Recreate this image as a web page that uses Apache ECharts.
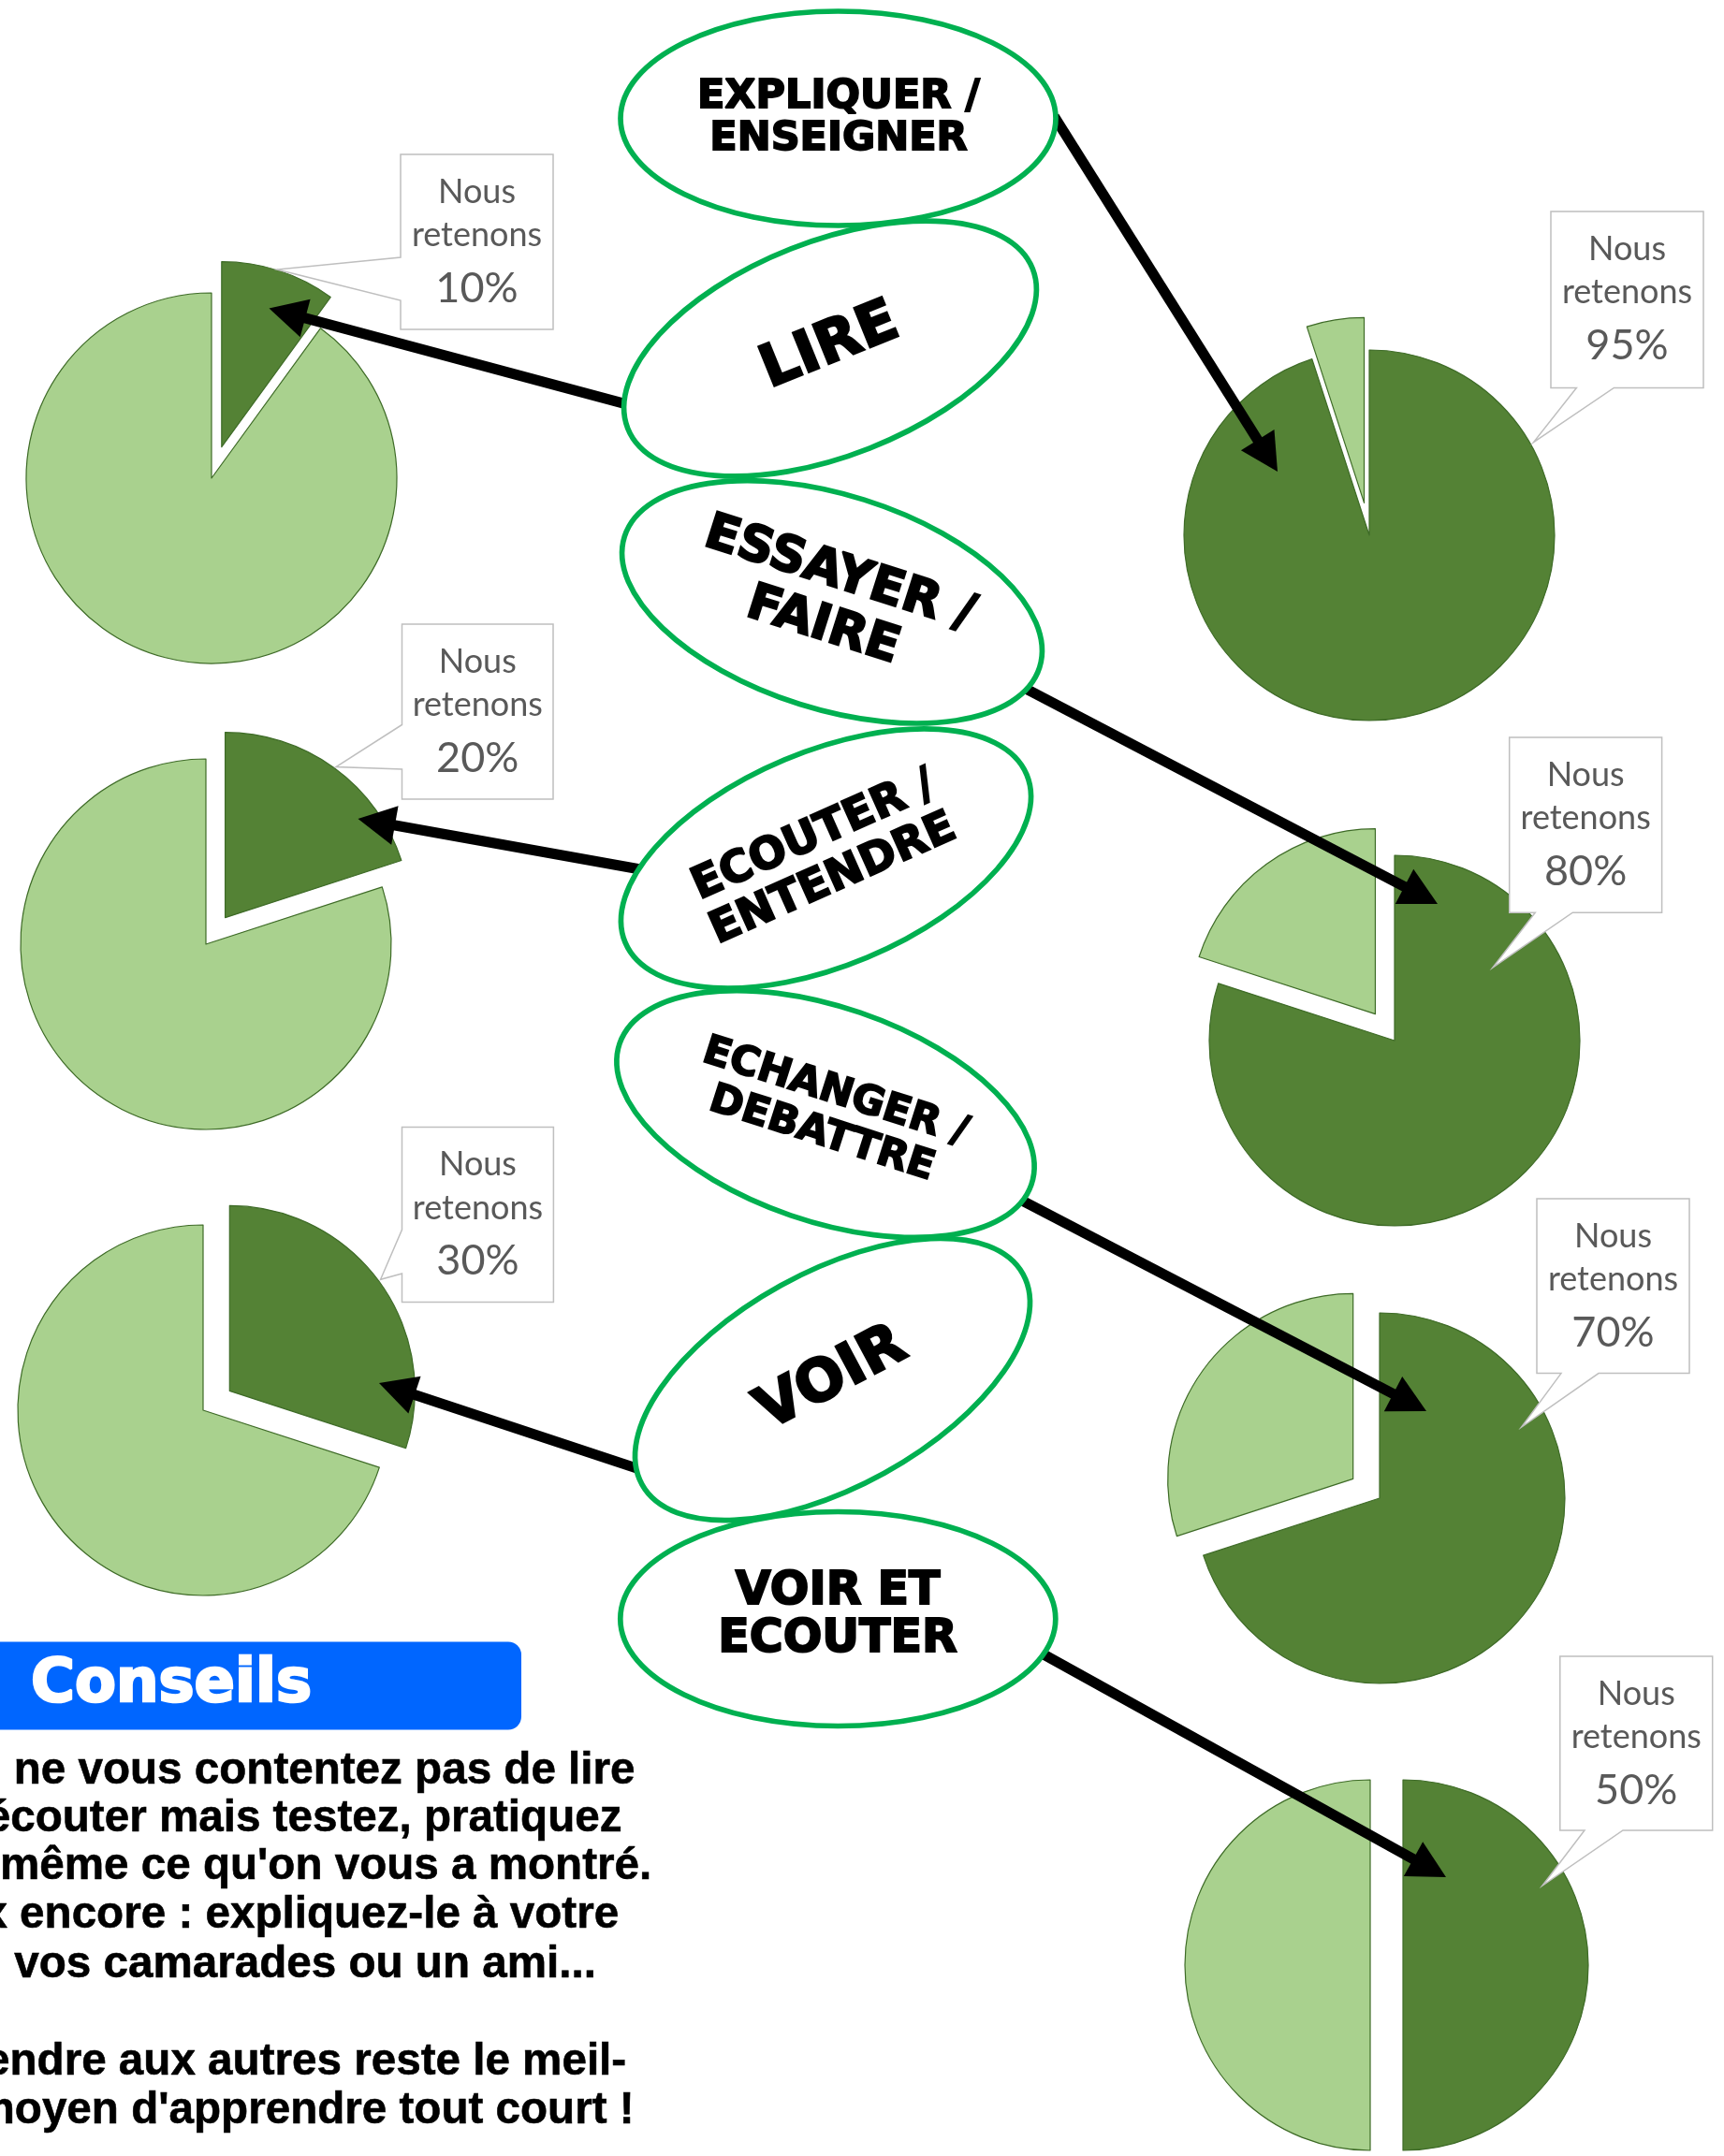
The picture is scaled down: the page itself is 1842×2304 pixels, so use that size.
<!DOCTYPE html>
<html>
<head>
<meta charset="utf-8">
<script src="https://cdn.jsdelivr.net/npm/echarts@6/dist/echarts.min.js"></script>
<style>
html,body{margin:0;padding:0;background:#fff;}
#c{width:1842px;height:2304px;}
</style>
</head>
<body>
<div id="c"></div>
<script>
// ---- data ----
const activities = ['EXPLIQUER /\nENSEIGNER', 'LIRE', 'ESSAYER /\nFAIRE', 'ECOUTER /\nENTENDRE', 'ECHANGER /\nDEBATTRE', 'VOIR', 'VOIR ET\nECOUTER'];
const retained = [95, 10, 80, 20, 70, 30, 50];
const calloutWords = ['Nous', 'retenons'];
const adviceTitle = 'Conseils';
const adviceLines = [
  'ne vous contentez pas de lire',
  "ou d'écouter mais testez, pratiquez",
  "vous-même ce qu'on vous a montré.",
  'Mieux encore : expliquez-le à votre',
  'voisin vos camarades ou un ami...',
  '',
  'Apprendre aux autres reste le meil-',
  "leur moyen d'apprendre tout court !"
];

// ---- layout (positions / styles) ----
const DARK = '#548235', LIGHT = '#a9d18e', EDGE = '#3e6b27';
const pieLayout = [
  {c: [1463, 572], explode: 'rest'},
  {c: [226, 511], explode: 'kept'},
  {c: [1490, 1112], explode: 'rest'},
  {c: [220, 1009], explode: 'kept'},
  {c: [1474, 1601], explode: 'rest'},
  {c: [217, 1507], explode: 'kept'},
  {c: [1499, 2100], explode: 'rest'}
];
const ellLayout = [
  {c: [895.5, 126.5], rot: 0, fs: 43, lh: 45, t: [896, 126], tr: 0, sw: 1.8},
  {c: [887, 372.5], rot: 21.5, fs: 62, lh: 62, t: [887, 371], tr: 22, sw: 2.6},
  {c: [889, 643.3], rot: -17.5, fs: 53, lh: 58, t: [888, 642], tr: -17.7, sw: 2.2},
  {c: [882.5, 917.5], rot: 22.7, fs: 47, lh: 51, t: [880, 917], tr: 24, sw: 2.0},
  {c: [882, 1190.5], rot: -18.9, fs: 43, lh: 47, t: [885, 1190], tr: -17.7, sw: 1.8},
  {c: [889.5, 1474], rot: 28.9, fs: 62, lh: 62, t: [889, 1474], tr: 28, sw: 2.6},
  {c: [895.3, 1730], rot: 0, fs: 49, lh: 51, t: [895, 1727], tr: 0, sw: 2.0}
];
const arrowLayout = [
  [[1131.7, 133], [1365, 504]],
  [[666, 431], [287.5, 329.6]],
  [[1098, 737], [1536, 966]],
  [[684, 929], [382.5, 874.9]],
  [[1093, 1283.4], [1524, 1508]],
  [[677, 1568], [405, 1478]],
  [[1115, 1768], [1545, 2006]]
];
const calloutLayout = [
  {box: [1657, 226, 1820, 414.4], edge: 'bottom', a: 1684.4, b: 1724.4, tip: [1638.5, 472.6]},
  {box: [428, 165, 591, 352], edge: 'left', a: 275, b: 321, tip: [296, 288]},
  {box: [1612.7, 788, 1775.6, 975.2], edge: 'bottom', a: 1640.3, b: 1680.3, tip: [1595, 1033.9]},
  {box: [429.5, 667, 591, 854], edge: 'left', a: 774.5, b: 822, tip: [359, 819.6]},
  {box: [1642, 1281, 1805, 1467.6], edge: 'bottom', a: 1668, b: 1708, tip: [1625.6, 1525]},
  {box: [429.5, 1204.5, 591.4, 1391.6], edge: 'left', a: 1314, b: 1361, tip: [406.6, 1367.3]},
  {box: [1666.8, 1770, 1829.7, 1956], edge: 'bottom', a: 1693, b: 1734, tip: [1648, 2015]}
];
const adviceX = [14.7, -127, -127, -127, -135.5, -127, -127, -127];
const adviceBase = [1909, 1960, 2011.6, 2063.7, 2115.9, 2168, 2220, 2272];

const deg = Math.PI / 180;
const HEAVY = 'DejaVu Sans';
const series = retained.map((v, i) => ({
  type: 'pie',
  center: pieLayout[i].c,
  radius: 198,
  startAngle: 90,
  clockwise: true,
  selectedMode: 'multiple',
  selectedOffset: 35,
  label: {show: false},
  labelLine: {show: false},
  emphasis: {disabled: true},
  select: {itemStyle: {borderColor: EDGE, borderWidth: 1.2}},
  itemStyle: {borderColor: EDGE, borderWidth: 1.2},
  z: 2,
  data: [
    {name: 'Nous retenons', value: v, selected: pieLayout[i].explode === 'kept', itemStyle: {color: DARK}},
    {name: 'Non retenu', value: 100 - v, selected: pieLayout[i].explode === 'rest', itemStyle: {color: LIGHT}}
  ]
}));

const g = [];
// callouts
calloutLayout.forEach((cl, i) => {
  const [x1, y1, x2, y2] = cl.box;
  let pts;
  if (cl.edge === 'left') {
    pts = [[x1, y1], [x2, y1], [x2, y2], [x1, y2], [x1, cl.b], cl.tip, [x1, cl.a]];
  } else {
    pts = [[x1, y1], [x2, y1], [x2, y2], [cl.b, y2], cl.tip, [cl.a, y2], [x1, y2]];
  }
  g.push({type: 'polygon', z: 5, shape: {points: pts}, style: {fill: '#fff', stroke: '#bfbfbf', lineWidth: 1.5}});
  const cx = (x1 + x2) / 2;
  const lines = [calloutWords[0], calloutWords[1], retained[i] + '%'];
  const base = [y1 + 54, y1 + 100.5, y1 + 160.5];
  const fss = [36, 36, 45];
  lines.forEach((t, k) => {
    g.push({type: 'text', z: 6, x: cx, y: base[k] - 0.387 * fss[k],
      style: {text: t, fill: '#595959', font: fss[k] + 'px Lato', align: 'center', verticalAlign: 'middle'}});
  });
});
// arrows
arrowLayout.forEach(([s, t]) => {
  const dx = t[0] - s[0], dy = t[1] - s[1];
  const len = Math.hypot(dx, dy);
  const ux = dx / len, uy = dy / len;
  const L = 40, W = 21;
  const bx = t[0] - ux * L, by = t[1] - uy * L;
  g.push({type: 'line', z: 10, shape: {x1: s[0] - ux * 10, y1: s[1] - uy * 10, x2: bx + ux * 4, y2: by + uy * 4},
    style: {stroke: '#000', lineWidth: 11}});
  g.push({type: 'polygon', z: 10, shape: {points: [t, [bx - uy * W, by + ux * W], [bx + uy * W, by - ux * W]]},
    style: {fill: '#000'}});
});
// ellipses + activity labels
activities.forEach((name, i) => {
  const e = ellLayout[i];
  g.push({type: 'ellipse', z: 20 + i, x: e.c[0], y: e.c[1], rotation: e.rot * deg,
    shape: {cx: 0, cy: 0, rx: 232.5, ry: 114.5},
    style: {fill: '#fff', stroke: '#00b050', lineWidth: 5.7}});
  g.push({type: 'text', z: 40, x: e.t[0], y: e.t[1], rotation: e.tr * deg,
    style: {text: name, fill: '#000', stroke: '#000', lineWidth: e.sw, lineJoin: 'round',
      font: 'bold ' + e.fs + 'px "' + HEAVY + '"', lineHeight: e.lh,
      align: 'center', verticalAlign: 'middle'}});
});
// advice box
g.push({type: 'rect', z: 30, shape: {x: -30, y: 1754.4, width: 587, height: 94.2, r: 14}, style: {fill: '#0066ff'}});
g.push({type: 'text', z: 31, x: 33, y: 1823.4 - 0.346 * 64,
  style: {text: adviceTitle, fill: '#fff', stroke: '#fff', lineWidth: 2.6, lineJoin: 'round',
    font: 'bold 64px "' + HEAVY + '"', align: 'left', verticalAlign: 'middle'}});
adviceLines.forEach((t, k) => {
  if (!t) return;
  g.push({type: 'text', z: 31, x: adviceX[k], y: adviceBase[k] - 0.3465 * 47.6,
    style: {text: t, fill: '#000', stroke: '#000', lineWidth: 0.6,
      font: 'bold 47.6px "Liberation Sans"', align: 'left', verticalAlign: 'middle'}});
});

const chart = echarts.init(document.getElementById('c'));
chart.setOption({
  animation: false,
  backgroundColor: '#fff',
  series: series,
  graphic: {elements: g}
});
</script>
</body>
</html>
